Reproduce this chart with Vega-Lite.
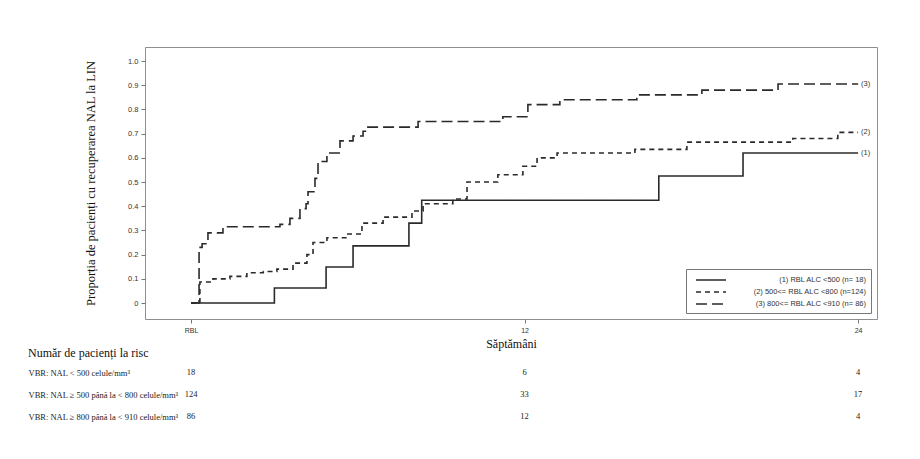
{
  "$schema": "https://vega.github.io/schema/vega-lite/v6.json",
  "autosize": {"type": "pad"},
  "padding": {"left": 28, "top": 46, "right": 5, "bottom": 5},
  "background": "white",
  "config": {"view": {"stroke": "#8f8f8f", "strokeWidth": 1}, "font": "Liberation Sans"},
  "resolve": {"scale": {"strokeDash": "independent", "x": "independent", "y": "independent"}, "legend": {"strokeDash": "independent"}},
  "datasets": {
    "km": [
      {"grp": "(1) RBL ALC <500 (n= 18)", "week": 0, "p": 0},
      {"grp": "(1) RBL ALC <500 (n= 18)", "week": 3.0, "p": 0.062},
      {"grp": "(1) RBL ALC <500 (n= 18)", "week": 4.86, "p": 0.149},
      {"grp": "(1) RBL ALC <500 (n= 18)", "week": 5.83, "p": 0.236},
      {"grp": "(1) RBL ALC <500 (n= 18)", "week": 7.84, "p": 0.33},
      {"grp": "(1) RBL ALC <500 (n= 18)", "week": 8.3, "p": 0.425},
      {"grp": "(1) RBL ALC <500 (n= 18)", "week": 16.83, "p": 0.525},
      {"grp": "(1) RBL ALC <500 (n= 18)", "week": 19.86, "p": 0.62},
      {"grp": "(1) RBL ALC <500 (n= 18)", "week": 24, "p": 0.62},
      {"grp": "(2) 500<= RBL ALC <800 (n=124)", "week": 0, "p": 0},
      {"grp": "(2) 500<= RBL ALC <800 (n=124)", "week": 0.32, "p": 0.087},
      {"grp": "(2) 500<= RBL ALC <800 (n=124)", "week": 0.79, "p": 0.1},
      {"grp": "(2) 500<= RBL ALC <800 (n=124)", "week": 1.4, "p": 0.11},
      {"grp": "(2) 500<= RBL ALC <800 (n=124)", "week": 2.01, "p": 0.125},
      {"grp": "(2) 500<= RBL ALC <800 (n=124)", "week": 2.6, "p": 0.13},
      {"grp": "(2) 500<= RBL ALC <800 (n=124)", "week": 3.09, "p": 0.14},
      {"grp": "(2) 500<= RBL ALC <800 (n=124)", "week": 3.67, "p": 0.165},
      {"grp": "(2) 500<= RBL ALC <800 (n=124)", "week": 4.17, "p": 0.2},
      {"grp": "(2) 500<= RBL ALC <800 (n=124)", "week": 4.39, "p": 0.25},
      {"grp": "(2) 500<= RBL ALC <800 (n=124)", "week": 4.89, "p": 0.27},
      {"grp": "(2) 500<= RBL ALC <800 (n=124)", "week": 5.61, "p": 0.285},
      {"grp": "(2) 500<= RBL ALC <800 (n=124)", "week": 6.15, "p": 0.33},
      {"grp": "(2) 500<= RBL ALC <800 (n=124)", "week": 6.91, "p": 0.355},
      {"grp": "(2) 500<= RBL ALC <800 (n=124)", "week": 7.95, "p": 0.38},
      {"grp": "(2) 500<= RBL ALC <800 (n=124)", "week": 8.35, "p": 0.41},
      {"grp": "(2) 500<= RBL ALC <800 (n=124)", "week": 9.42, "p": 0.43},
      {"grp": "(2) 500<= RBL ALC <800 (n=124)", "week": 9.93, "p": 0.5},
      {"grp": "(2) 500<= RBL ALC <800 (n=124)", "week": 11.04, "p": 0.53},
      {"grp": "(2) 500<= RBL ALC <800 (n=124)", "week": 11.94, "p": 0.565},
      {"grp": "(2) 500<= RBL ALC <800 (n=124)", "week": 12.45, "p": 0.6},
      {"grp": "(2) 500<= RBL ALC <800 (n=124)", "week": 13.17, "p": 0.62},
      {"grp": "(2) 500<= RBL ALC <800 (n=124)", "week": 15.97, "p": 0.635},
      {"grp": "(2) 500<= RBL ALC <800 (n=124)", "week": 17.84, "p": 0.665},
      {"grp": "(2) 500<= RBL ALC <800 (n=124)", "week": 21.65, "p": 0.68},
      {"grp": "(2) 500<= RBL ALC <800 (n=124)", "week": 23.27, "p": 0.705},
      {"grp": "(2) 500<= RBL ALC <800 (n=124)", "week": 24, "p": 0.705},
      {"grp": "(3) 800<= RBL ALC <910 (n= 86)", "week": 0, "p": 0},
      {"grp": "(3) 800<= RBL ALC <910 (n= 86)", "week": 0.29, "p": 0.23},
      {"grp": "(3) 800<= RBL ALC <910 (n= 86)", "week": 0.4, "p": 0.245},
      {"grp": "(3) 800<= RBL ALC <910 (n= 86)", "week": 0.61, "p": 0.29},
      {"grp": "(3) 800<= RBL ALC <910 (n= 86)", "week": 1.15, "p": 0.315},
      {"grp": "(3) 800<= RBL ALC <910 (n= 86)", "week": 3.2, "p": 0.325},
      {"grp": "(3) 800<= RBL ALC <910 (n= 86)", "week": 3.56, "p": 0.35},
      {"grp": "(3) 800<= RBL ALC <910 (n= 86)", "week": 3.92, "p": 0.39},
      {"grp": "(3) 800<= RBL ALC <910 (n= 86)", "week": 4.14, "p": 0.41},
      {"grp": "(3) 800<= RBL ALC <910 (n= 86)", "week": 4.21, "p": 0.46},
      {"grp": "(3) 800<= RBL ALC <910 (n= 86)", "week": 4.46, "p": 0.515},
      {"grp": "(3) 800<= RBL ALC <910 (n= 86)", "week": 4.57, "p": 0.585},
      {"grp": "(3) 800<= RBL ALC <910 (n= 86)", "week": 4.89, "p": 0.62},
      {"grp": "(3) 800<= RBL ALC <910 (n= 86)", "week": 5.36, "p": 0.67},
      {"grp": "(3) 800<= RBL ALC <910 (n= 86)", "week": 5.83, "p": 0.69},
      {"grp": "(3) 800<= RBL ALC <910 (n= 86)", "week": 6.19, "p": 0.71},
      {"grp": "(3) 800<= RBL ALC <910 (n= 86)", "week": 6.33, "p": 0.727},
      {"grp": "(3) 800<= RBL ALC <910 (n= 86)", "week": 8.17, "p": 0.75},
      {"grp": "(3) 800<= RBL ALC <910 (n= 86)", "week": 11.22, "p": 0.77},
      {"grp": "(3) 800<= RBL ALC <910 (n= 86)", "week": 12.12, "p": 0.82},
      {"grp": "(3) 800<= RBL ALC <910 (n= 86)", "week": 13.27, "p": 0.84},
      {"grp": "(3) 800<= RBL ALC <910 (n= 86)", "week": 16.04, "p": 0.86},
      {"grp": "(3) 800<= RBL ALC <910 (n= 86)", "week": 18.38, "p": 0.88},
      {"grp": "(3) 800<= RBL ALC <910 (n= 86)", "week": 21.12, "p": 0.905},
      {"grp": "(3) 800<= RBL ALC <910 (n= 86)", "week": 24, "p": 0.905}
    ],
    "ends": [
      {"week": 24, "p": 0.62, "lab": "(1)"},
      {"week": 24, "p": 0.705, "lab": "(2)"},
      {"week": 24, "p": 0.905, "lab": "(3)"}
    ],
    "risk": [
      {"row": "VBR: NAL < 500 celule/mm³", "week": 0, "n": "18"},
      {"row": "VBR: NAL < 500 celule/mm³", "week": 12, "n": "6"},
      {"row": "VBR: NAL < 500 celule/mm³", "week": 24, "n": "4"},
      {"row": "VBR: NAL ≥ 500 până la < 800 celule/mm³", "week": 0, "n": "124"},
      {"row": "VBR: NAL ≥ 500 până la < 800 celule/mm³", "week": 12, "n": "33"},
      {"row": "VBR: NAL ≥ 500 până la < 800 celule/mm³", "week": 24, "n": "17"},
      {"row": "VBR: NAL ≥ 800 până la < 910 celule/mm³", "week": 0, "n": "86"},
      {"row": "VBR: NAL ≥ 800 până la < 910 celule/mm³", "week": 12, "n": "12"},
      {"row": "VBR: NAL ≥ 800 până la < 910 celule/mm³", "week": 24, "n": "4"}
    ]
  },
  "spacing": -3,
  "vconcat": [
    {
      "width": 732,
      "height": 272,
      "encoding": {
        "x": {
          "field": "week", "type": "quantitative",
          "scale": {"domain": [-1.655, 24.68], "nice": false, "zero": false},
          "axis": {
            "values": [0, 12, 24],
            "labelExpr": "datum.value == 0 ? 'RBL' : datum.label",
            "labelFont": "Liberation Sans", "labelFontSize": 7, "labelColor": "#333",
            "labelPadding": 3, "labelOverlap": false,
            "tickSize": 4, "tickColor": "#777", "domain": false, "grid": false,
            "title": "Săptămâni", "titleFont": "Liberation Serif", "titleFontSize": 12,
            "titleFontWeight": "normal", "titleColor": "#111", "titlePadding": 5
          }
        },
        "y": {
          "field": "p", "type": "quantitative",
          "scale": {"domain": [-0.066, 1.058], "nice": false, "zero": false},
          "axis": {
            "values": [0, 0.1, 0.2, 0.3, 0.4, 0.5, 0.6, 0.7, 0.8, 0.9, 1.0],
            "labelExpr": "datum.value == 0 ? '0' : format(datum.value, '.1f')",
            "labelFont": "Liberation Sans", "labelFontSize": 7.5, "labelColor": "#333",
            "labelPadding": 3, "labelOverlap": false,
            "tickSize": 4, "tickColor": "#777", "domain": false, "grid": false,
            "title": "Proporția de pacienți cu recuperarea NAL la LIN",
            "titleFont": "Liberation Serif", "titleFontSize": 12.5,
            "titleFontWeight": "normal", "titleColor": "#111", "titlePadding": 30
          }
        }
      },
      "layer": [
        {
          "data": {"name": "km"},
          "mark": {"type": "line", "interpolate": "step-after", "strokeWidth": 1.6, "color": "#2a2a2a"},
          "encoding": {
            "strokeDash": {
              "field": "grp", "type": "nominal",
              "scale": {
                "domain": ["(1) RBL ALC <500 (n= 18)", "(2) 500<= RBL ALC <800 (n=124)", "(3) 800<= RBL ALC <910 (n= 86)"],
                "range": [[1, 0], [5, 4], [11, 5]]
              },
              "legend": {
                "title": null, "orient": "bottom-right", "offset": 6,
                "fillColor": "white", "strokeColor": "#777", "padding": 5,
                "symbolType": "M-0.2,0H5.8", "symbolSize": 100, "symbolStrokeWidth": 1.6,
                "symbolStrokeColor": "#2a2a2a", "symbolFillColor": "transparent",
                "labelFont": "Liberation Sans", "labelFontSize": 7.5, "labelColor": "#333",
                "labelAlign": "right", "labelOffset": 163, "labelLimit": 300, "rowPadding": 2
              }
            }
          }
        },
        {
          "data": {"name": "ends"},
          "mark": {"type": "text", "align": "left", "dx": 3, "fontSize": 7.5, "font": "Liberation Sans", "color": "#333"},
          "encoding": {
            "text": {"field": "lab"}
          }
        }
      ]
    },
    {
      "data": {"name": "risk"},
      "width": 732,
      "height": 66,
      "view": {"stroke": null},
      "title": {
        "text": "Număr de pacienți la risc", "anchor": "start", "frame": "bounds",
        "font": "Liberation Serif", "fontSize": 12, "fontWeight": "normal", "color": "#111", "offset": 1
      },
      "mark": {"type": "text", "font": "Liberation Serif", "fontSize": 8.5, "color": "#222"},
      "encoding": {
        "x": {"field": "week", "type": "quantitative", "scale": {"domain": [-1.655, 24.68], "nice": false, "zero": false}, "axis": null},
        "y": {
          "field": "row", "type": "ordinal",
          "sort": ["VBR: NAL < 500 celule/mm³", "VBR: NAL ≥ 500 până la < 800 celule/mm³", "VBR: NAL ≥ 800 până la < 910 celule/mm³"],
          "scale": {"type": "point", "padding": 0.5},
          "axis": {
            "title": null, "domain": false, "ticks": false, "labelAlign": "left", "labelPadding": 117,
            "labelFont": "Liberation Serif", "labelFontSize": 8.5, "labelColor": "#222", "labelLimit": 0
          }
        },
        "text": {"field": "n"}
      }
    }
  ]
}
